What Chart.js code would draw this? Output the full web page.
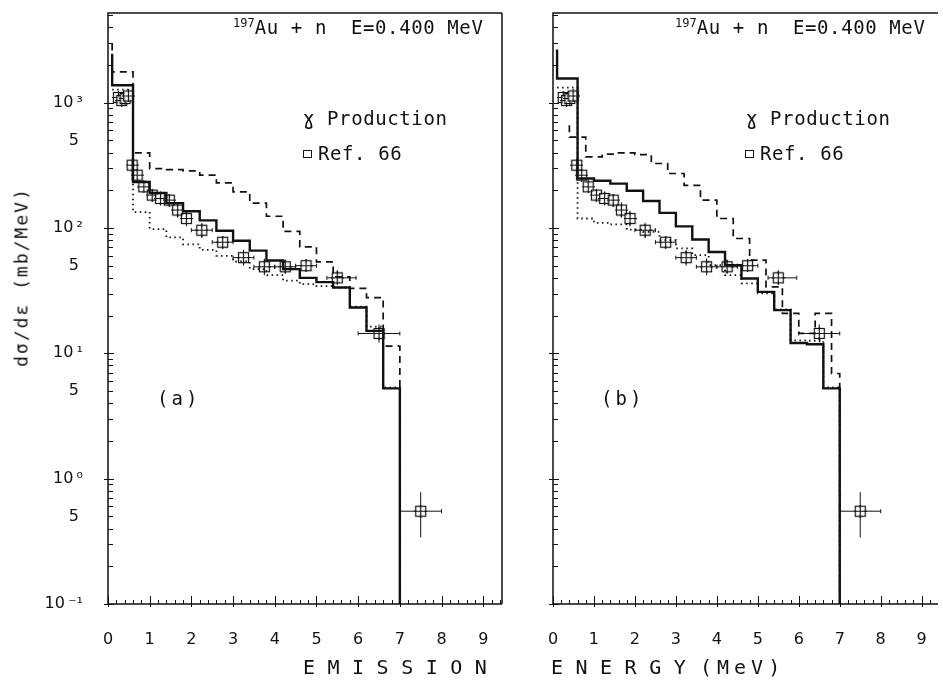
<!DOCTYPE html>
<html>
<head>
<meta charset="utf-8">
<script src="https://cdn.jsdelivr.net/npm/chart.js@4.4.1/dist/chart.umd.min.js"></script>
<style>
body{margin:0;background:#fff;}
#wrap{position:relative;width:943px;height:680px;overflow:hidden;color:#111;font-family:"DejaVu Sans Mono",monospace;}
canvas{position:absolute;top:0;}
#cA{left:0;}
#cB{left:520px;}
.t{position:absolute;white-space:nowrap;font-size:19px;line-height:1;letter-spacing:0.6px;}
.t sup{font-size:12px;vertical-align:0;position:relative;top:-7px;letter-spacing:0;}
.box{display:inline-block;width:7px;height:6px;border:1.3px solid #111;margin-right:6px;position:relative;top:-2px;}
#ytitle{position:absolute;left:21px;top:277px;transform:translate(-50%,-50%) rotate(-90deg);font-size:18px;letter-spacing:2px;white-space:nowrap;}
.xt{position:absolute;top:657px;font-size:20px;letter-spacing:12.5px;white-space:nowrap;line-height:1;}
</style>
</head>
<body>
<div id="wrap">
  <canvas id="cA" width="520" height="680"></canvas>
  <canvas id="cB" width="423" height="680"></canvas>

  <div class="t" style="left:233px;top:18px"><sup>197</sup>Au&nbsp;+&nbsp;n&nbsp;&nbsp;E=0.400&nbsp;MeV</div>
  <div class="t" style="left:303px;top:109px">&#611;&nbsp;Production</div>
  <div class="t" style="left:303px;top:144px"><span class="box"></span>Ref.&nbsp;66</div>
  <div class="t" style="left:157px;top:389px;letter-spacing:3px">(a)</div>

  <div class="t" style="left:675px;top:18px"><sup>197</sup>Au&nbsp;+&nbsp;n&nbsp;&nbsp;E=0.400&nbsp;MeV</div>
  <div class="t" style="left:746px;top:109px">&#611;&nbsp;Production</div>
  <div class="t" style="left:745px;top:144px"><span class="box"></span>Ref.&nbsp;66</div>
  <div class="t" style="left:601px;top:389px;letter-spacing:3px">(b)</div>

  <div id="ytitle">d&sigma;/d&epsilon;&nbsp;(mb/MeV)</div>
  <div class="xt" style="left:303px">EMISSION</div>
  <div class="xt" style="left:551px">ENERGY</div>
  <div class="xt" style="left:700px;letter-spacing:5px">(MeV)</div>
</div>

<script>
// ---- data ----
const Y_MIN=0.1, Y_MAX=5190;
const xTicks=[0,1,2,3,4,5,6,7,8,9];
const yTickVals=[0.1,0.5,1,5,10,50,100,500,1000];
const yTickText=['10\u2009\u207B\u00B9','5\u2005','10\u2009\u2070','5\u2005','10\u2009\u00B9','5\u2005','10\u2009\u00B2','5\u2005','10\u2009\u00B3'];

// histogram bin edges (MeV)
const binEdges=[0.1,0.6,1.0,1.4,1.8,2.2,2.6,3.0,3.4,3.8,4.2,4.6,5.0,5.4,5.8,6.2,6.6,7.0];
const binEdgesB=[0.4,0.8,1.2,1.6,2.0,2.4,2.8,3.2,3.6,4.0,4.4,4.8,5.2,5.6,6.0,6.4,6.8,7.0];

// panel (a)
const solidA=[1377,233,190,158,136,115,95,79,66,55,47,40,37,33.5,23.2,15.1,5.25];
const solidATop=2460;
const dashA=[1758,397,298,292,285,264,229,194,158,124,94,70.6,53.7,40.8,33,27.8,11.4];
const dashATop=2960;
const dotA=[1270,134,98,84,74,67,60,54,47,42,38,35.6,34.4,33.5,23.6,16.3,5.35];

// panel (b)
const solidB=[1556,248,238,226,198,164,132,103,81,64.4,50.4,39.5,30.9,22.1,12.1,11.8,5.25];
const solidBTop=2650;
const dashB=[530,369,388,397,385,327,272,219,167,119,82.4,55.4,33.9,20.8,14.4,20.8,6.9];
const dashBTop=661;
const dotB=[1318,119,110,107,97,93,80,68.7,60.7,50.5,42.1,36.1,30.1,22.4,12.7,12.6,5.35];

// Ref. 66 measurements
const expE  =[0.25,0.33,0.41,0.49,0.58,0.70,0.86,1.06,1.26,1.47,1.67,1.88,2.25,2.75,3.25,3.75,4.25,4.75,5.5,6.5,7.5];
const expVal=[1100,1040,1080,1130,317,264,213,183,172,167,139,119,96,77,58,49,49,50,40,14.4,0.55];
const expLo =[1050,990,1030,1075,293,244,194,163,151,149,121,103,83,69,50,42,43,45,35,12.2,0.34];
const expHi =[1155,1090,1135,1190,342,285,234,205,196,187,160,137,110,86,67,57,56,56,46,17,0.78];
const expELo=[0.21,0.29,0.37,0.45,0.54,0.66,0.82,1.02,1.22,1.43,1.63,1.84,2.0,2.5,3.0,3.5,4.0,4.5,5.25,6.0,7.0];
const expEHi=[0.29,0.37,0.45,0.53,0.62,0.74,0.90,1.10,1.30,1.51,1.71,1.92,2.5,3.0,3.5,4.0,4.5,5.0,5.95,7.0,8.0];

// ---- helpers ----
function hist(edges,vals,top){
  const pts=[];
  if(top!=null)pts.push({x:edges[0],y:top});
  vals.forEach((v,i)=>pts.push({x:edges[i],y:v}));
  pts.push({x:edges[edges.length-1],y:vals[vals.length-1]});
  pts.push({x:edges[edges.length-1],y:Y_MIN});
  return pts;
}

function makeMarker(){
  const s=13,c=document.createElement('canvas');c.width=c.height=s;
  const g=c.getContext('2d');
  g.fillStyle='#fff';g.fillRect(2.5,2.5,8,8);
  g.strokeStyle='#111';g.lineWidth=1.2;g.strokeRect(1.5,1.5,10,10);
  g.beginPath();g.moveTo(6.5,0);g.lineTo(6.5,13);g.moveTo(0,6.5);g.lineTo(13,6.5);g.stroke();
  return c;
}
const marker=makeMarker();

const INK='#111';

// error bars for the measured points
const errBars={id:'errBars',beforeDatasetDraw(c,args){
  if(args.meta.type!=='scatter')return;
  const {ctx,scales:{x,y}}=c;
  ctx.save();ctx.strokeStyle=INK;ctx.lineWidth=1;
  ctx.beginPath();
  expE.forEach((e,i)=>{
    const px=x.getPixelForValue(e),py=y.getPixelForValue(expVal[i]);
    const yl=y.getPixelForValue(expLo[i]),yh=y.getPixelForValue(expHi[i]);
    const xl=x.getPixelForValue(expELo[i]),xh=x.getPixelForValue(expEHi[i]);
    ctx.moveTo(px,yl);ctx.lineTo(px,yh);
    ctx.moveTo(xl,py);ctx.lineTo(xh,py);
    if(xh-xl>14){ctx.moveTo(xl,py-2);ctx.lineTo(xl,py+2);ctx.moveTo(xh,py-2);ctx.lineTo(xh,py+2);}
  });
  ctx.stroke();ctx.restore();
}};

// frame with inward ticks
const frame={id:'frame',afterDraw(c,args,o){
  const {ctx,chartArea:a,scales:{x,y}}=c;
  ctx.save();ctx.strokeStyle=INK;ctx.lineWidth=1.5;
  ctx.beginPath();
  ctx.moveTo(a.right+(o.right?0:2),a.top);ctx.lineTo(a.left,a.top);ctx.lineTo(a.left,a.bottom);ctx.lineTo(a.right+(o.right?0:2),a.bottom);
  if(o.right){ctx.moveTo(a.right,a.top);ctx.lineTo(a.right,a.bottom);}
  ctx.stroke();
  ctx.lineWidth=1;ctx.beginPath();
  for(let k=-1;k<=3;k++){
    for(let m=1;m<=9;m++){
      const v=m*Math.pow(10,k);
      if(v<Y_MIN||v>y.max)continue;
      const py=Math.round(y.getPixelForValue(v))+0.5;
      ctx.moveTo(a.left-(m===1?4:0),py);ctx.lineTo(a.left+(m===1?6:5),py);
    }
  }
  for(let i=0;i*0.2<=x.max+1e-9;i++){
    const px=Math.round(x.getPixelForValue(i*0.2))+0.5;
    const major=i%5===0;
    ctx.moveTo(px,a.bottom+(major?3:0));ctx.lineTo(px,a.bottom-(major?8:4));
  }
  ctx.stroke();ctx.restore();
}};

// keep tick labels from nudging the plot area
function noPad(s){s.paddingTop=0;s.paddingBottom=0;s.paddingLeft=0;s.paddingRight=0;}

function buildChart(id,cfg){
  const sets=[
    {data:hist(binEdges,cfg.dot,null),borderWidth:1.8,borderDash:[1.5,3.5]},
    {data:hist(cfg.dashEdges,cfg.dash,cfg.dashTop),borderWidth:1.7,borderDash:[7,5]},
    {data:hist(binEdges,cfg.solid,cfg.solidTop),borderWidth:2.4}
  ].map(d=>Object.assign({type:'line',stepped:true,borderColor:INK,pointRadius:0,fill:false,tension:0},d));
  sets.push({type:'scatter',data:expE.map((e,i)=>({x:e,y:expVal[i]})),pointStyle:marker,pointRadius:6,showLine:false});
  return new Chart(document.getElementById(id),{
    data:{datasets:sets},
    plugins:[errBars,frame],
    options:{
      responsive:false,animation:false,devicePixelRatio:1,
      layout:{padding:{left:0,top:13,right:cfg.padRight,bottom:0}},
      plugins:{legend:{display:false},tooltip:{enabled:false},frame:{right:cfg.frameRight}},
      scales:{
        x:{type:'linear',min:0,max:cfg.xMax,
          afterBuildTicks:s=>{s.ticks=xTicks.map(v=>({value:v}));},
          afterFit:s=>{s.height=76;noPad(s);},
          grid:{display:false,drawTicks:false},border:{display:false},
          ticks:{padding:26,color:INK,font:{family:'DejaVu Sans',size:16},maxRotation:0,callback:v=>String(v)}},
        y:{type:'logarithmic',min:Y_MIN,max:Y_MAX,
          afterBuildTicks:s=>{s.ticks=yTickVals.map(v=>({value:v}));},
          afterFit:s=>{s.width=cfg.leftW;noPad(s);},
          grid:{display:false,drawTicks:false},border:{display:false},
          ticks:{display:cfg.yLabels,padding:25,color:INK,font:{family:'DejaVu Sans',size:16},
            callback:(v,i)=>yTickText[i]}}
      }
    }
  });
}

buildChart('cA',{solid:solidA,solidTop:solidATop,dash:dashA,dashTop:dashATop,dashEdges:binEdges,dot:dotA,
  xMax:9.45,padRight:18,leftW:108,yLabels:true,frameRight:true});
buildChart('cB',{solid:solidB,solidTop:solidBTop,dash:dashB,dashTop:dashBTop,dashEdges:binEdgesB,dot:dotB,
  xMax:9.35,padRight:0,leftW:33,yLabels:false,frameRight:false});
</script>
</body>
</html>
